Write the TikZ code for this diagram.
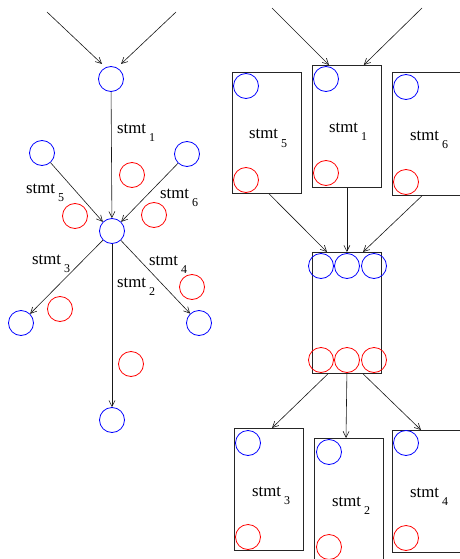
\documentclass[tikz,border=0pt]{standalone}
\usepackage{fontspec}
\setmainfont{Liberation Serif}
\usetikzlibrary{arrows.meta,calc}
\newcommand\stm[1]{stmt\hspace{3pt}\raisebox{-8.5pt}{\fontsize{12}{12}\selectfont #1}}
\begin{document}
\begin{tikzpicture}[x=1pt,y=-1pt,
  bc/.style={circle,draw=blue,line width=0.8pt,minimum size=25pt,inner sep=0pt},
  rc/.style={circle,draw=red,line width=0.8pt,minimum size=25pt,inner sep=0pt},
  lbl/.style={anchor=base west,inner sep=0pt,font=\fontsize{16.8}{18}\selectfont},
  box/.style={draw=black!85,line width=0.8pt,inner sep=0pt,minimum width=69pt,anchor=north west},
  arr/.style={draw=black!90,line width=0.6pt,-{Straight Barb[length=6pt,width=6pt]}}]
\useasboundingbox (0,0) rectangle (459,559);
% ---------- left diagram ----------
\node[bc] (A) at (111,79) {};
\node[bc] (B) at (42,153) {};
\node[bc] (C) at (187,154) {};
\node[bc] (D) at (112,231) {};
\node[bc] (E3) at (21,323) {};
\node[bc] (E4) at (199,323) {};
\node[bc] (E2) at (112,420) {};
\node[rc] (r1) at (132,175) {};
\node[rc] (r5) at (75,216) {};
\node[rc] (r6) at (154,215) {};
\node[rc] (r3) at (60,309) {};
\node[rc] (r4) at (192,287) {};
\node[rc] (r2) at (131,364) {};
\coordinate (ls1) at (47,12);
\coordinate (ls2) at (176,12);
\coordinate (lt1) at (102,64);
\coordinate (lt2) at (121,64);
\draw[arr] (ls1) -- (lt1);
\draw[arr] (ls2) -- (lt2);
\draw[arr] (A) -- (D);
\draw[arr] (B) -- (D.north west);
\draw[arr] (C) -- (D.north east);
\draw[arr] (D) -- (E3);
\draw[arr] (D) -- (E4);
\draw[arr] (D) -- (E2);
\node[lbl] (l1) at (117,133) {\stm{1}};
\node[lbl] (l5) at (26,193) {\stm{5}};
\node[lbl] (l6) at (160,198) {\stm{6}};
\node[lbl] (l3) at (32,264) {\stm{3}};
\node[lbl] (l4) at (149,265) {\stm{4}};
\node[lbl] (l2) at (117,287) {\stm{2}};
% ---------- right diagram ----------
\node[box,minimum height=121pt] (B5) at (232,72) {};
\node[box,minimum height=122pt] (B1) at (312,65) {};
\node[box,minimum height=123pt] (B6) at (392,72) {};
\node[box,minimum height=121pt] (M) at (312,252) {};
\node[box,minimum height=122pt] (B3) at (234,428) {};
\node[box,minimum height=122pt] (B2) at (314,438) {};
\node[box,minimum height=122pt] (B4) at (392,430) {};
\node[bc] (b5b) at (246,86) {};
\node[rc] (b5r) at (246,180) {};
\node[bc] (b1b) at (326,79) {};
\node[rc] (b1r) at (326,173) {};
\node[bc] (b6b) at (406,87) {};
\node[rc] (b6r) at (406,182) {};
\node[bc] (mb1) at (321,266) {};
\node[bc] (mb2) at (347,266) {};
\node[bc] (mb3) at (374,266) {};
\node[rc] (mr1) at (321,360) {};
\node[rc] (mr2) at (347,360) {};
\node[rc] (mr3) at (374,360) {};
\node[bc] (b3b) at (248,443) {};
\node[rc] (b3r) at (248,537) {};
\node[bc] (b2b) at (329,452) {};
\node[rc] (b2r) at (329,547) {};
\node[bc] (b4b) at (406,443) {};
\node[rc] (b4r) at (406,538) {};
\node[lbl] (t5) at (249,139) {\stm{5}};
\node[lbl] (t1) at (329,132) {\stm{1}};
\node[lbl] (t6) at (410,140) {\stm{6}};
\node[lbl] (t3) at (252,496) {\stm{3}};
\node[lbl] (t2) at (332,506) {\stm{2}};
\node[lbl] (t4) at (410,497) {\stm{4}};
\coordinate (rs1) at (272,8);
\coordinate (rs2) at (422,8);
\draw[arr] (rs1) -- ($(B1.north west)+(17,0)$);
\draw[arr] (rs2) -- ($(B1.north east)+(-18,0)$);
\draw[arr] ($(B5.south west)+(37,0)$) -- ($(M.north west)+(15,0)$);
\draw[arr] (B1.south) -- (M.north);
\draw[arr] ($(B6.south west)+(30,0)$) -- ($(M.north west)+(51,0)$);
\draw[arr] ($(M.south west)+(16,0)$) -- ($(B3.north west)+(38,0)$);
\draw[arr] (M.south) -- ($(B2.north west)+(32,0)$);
\draw[arr] ($(M.south west)+(51,0)$) -- ($(B4.north west)+(29,0)$);
\end{tikzpicture}
\end{document}
